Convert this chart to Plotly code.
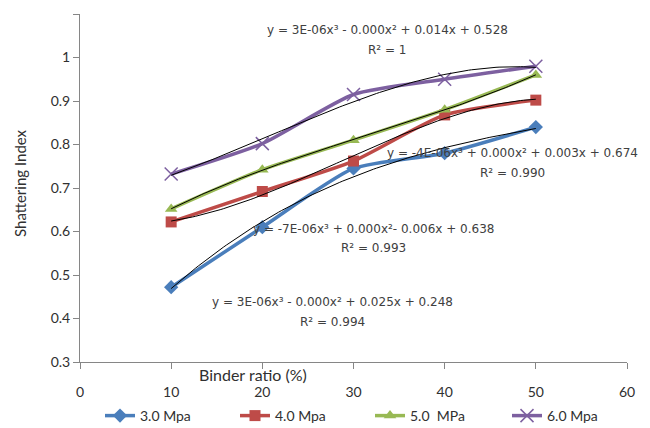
import numpy as np
import plotly.graph_objects as go

binder_ratio = [10, 20, 30, 40, 50]
s30 = [0.472, 0.610, 0.745, 0.780, 0.840]
s40 = [0.622, 0.692, 0.762, 0.868, 0.902]
s50 = [0.652, 0.742, 0.810, 0.880, 0.960]
s60 = [0.732, 0.802, 0.915, 0.950, 0.980]
series_names = ["3.0 Mpa", "4.0 Mpa", "5.0  MPa", "6.0 Mpa"]
equations = [
    "y = 3E-06x³ - 0.000x² + 0.025x + 0.248",
    "y = -7E-06x³ + 0.000x²- 0.006x + 0.638",
    "y = -4E-06x³ + 0.000x² + 0.003x + 0.674",
    "y = 3E-06x³ - 0.000x² + 0.014x + 0.528",
]
r2_labels = ["R² = 0.994", "R² = 0.993", "R² = 0.990", "R² = 1"]

colors = ["#4a7ebb", "#be4b48", "#98b954", "#7d60a0"]
symbols = ["diamond", "square", "triangle-up", "x-thin-open"]
msizes = [11, 11, 11, 13]
legend_widths = [90, 90, 92, 60]

fig = go.Figure()
all_series = [s30, s40, s50, s60]
for name, ys, c, sym, ms, lw in zip(series_names, all_series, colors, symbols, msizes, legend_widths):
    marker = dict(symbol=sym, size=ms, color=c)
    if sym == "x-thin-open":
        marker["line"] = dict(color=c, width=1.5)
    fig.add_trace(go.Scatter(
        x=binder_ratio, y=ys, name=name, mode="lines+markers",
        line=dict(color=c, width=3.5, shape="spline", smoothing=0.6),
        marker=marker, legendwidth=lw,
    ))

xs = np.linspace(min(binder_ratio), max(binder_ratio), 120)
for ys in all_series:
    coef = np.polyfit(binder_ratio, ys, 3)
    fig.add_trace(go.Scatter(
        x=xs, y=np.polyval(coef, xs), mode="lines", showlegend=False,
        line=dict(color="black", width=1), hoverinfo="skip",
    ))

eq_pos = [(27.75, 0.438, 0.392), (32.2, 0.606, 0.562), (47.4, 0.780, 0.734), (33.7, 1.063, 1.017)]
for (ex, ey, ry), eq, r2 in zip(eq_pos, equations, r2_labels):
    fig.add_annotation(x=ex, y=ey, text=eq, showarrow=False,
                       font=dict(family="DejaVu Sans", size=12, color="#404040"))
    fig.add_annotation(x=ex, y=ry, text=r2, showarrow=False,
                       font=dict(family="DejaVu Sans", size=12, color="#404040"))

fig.add_annotation(xref="paper", yref="paper", x=(253 - 80) / 547, y=-(374 - 362) / 348,
                   xanchor="center", yanchor="middle",
                   text="Binder ratio (%)", showarrow=False,
                   font=dict(family="Lato", size=16, color="#303030"))
fig.add_annotation(xref="paper", yref="paper", x=(20 - 80) / 547, y=(362 - 183) / 348,
                   xanchor="center", yanchor="middle",
                   text="Shattering Index", showarrow=False, textangle=-90,
                   font=dict(family="Lato", size=15, color="#303030"))

# page body adds an 8px offset, so the figure is drawn 8px smaller
fig.update_layout(
    width=642, height=420,
    margin=dict(l=72, r=23, t=6, b=66, autoexpand=False),
    paper_bgcolor="white", plot_bgcolor="white",
    font=dict(family="Lato", size=14, color="#303030"),
    showlegend=True,
    legend=dict(orientation="h", x=(100 - 80) / 547, y=-(400 - 362) / 348,
                xanchor="left", yanchor="top", font=dict(family="Lato", size=14),
                itemwidth=30, tracegroupgap=0),
    xaxis=dict(range=[0, 60], dtick=10, showgrid=False, zeroline=False,
               showline=True, linecolor="#868686", linewidth=1,
               ticks="outside", ticklen=6, tickcolor="#868686",
               ticklabelstandoff=11, automargin=False),
    yaxis=dict(range=[0.3, 1.1], dtick=0.1, showgrid=False, zeroline=False,
               showline=True, linecolor="#868686", linewidth=1,
               ticks="outside", ticklen=6, tickcolor="#868686",
               tickformat="~g", automargin=False),
)

fig.write_html("out.html")
